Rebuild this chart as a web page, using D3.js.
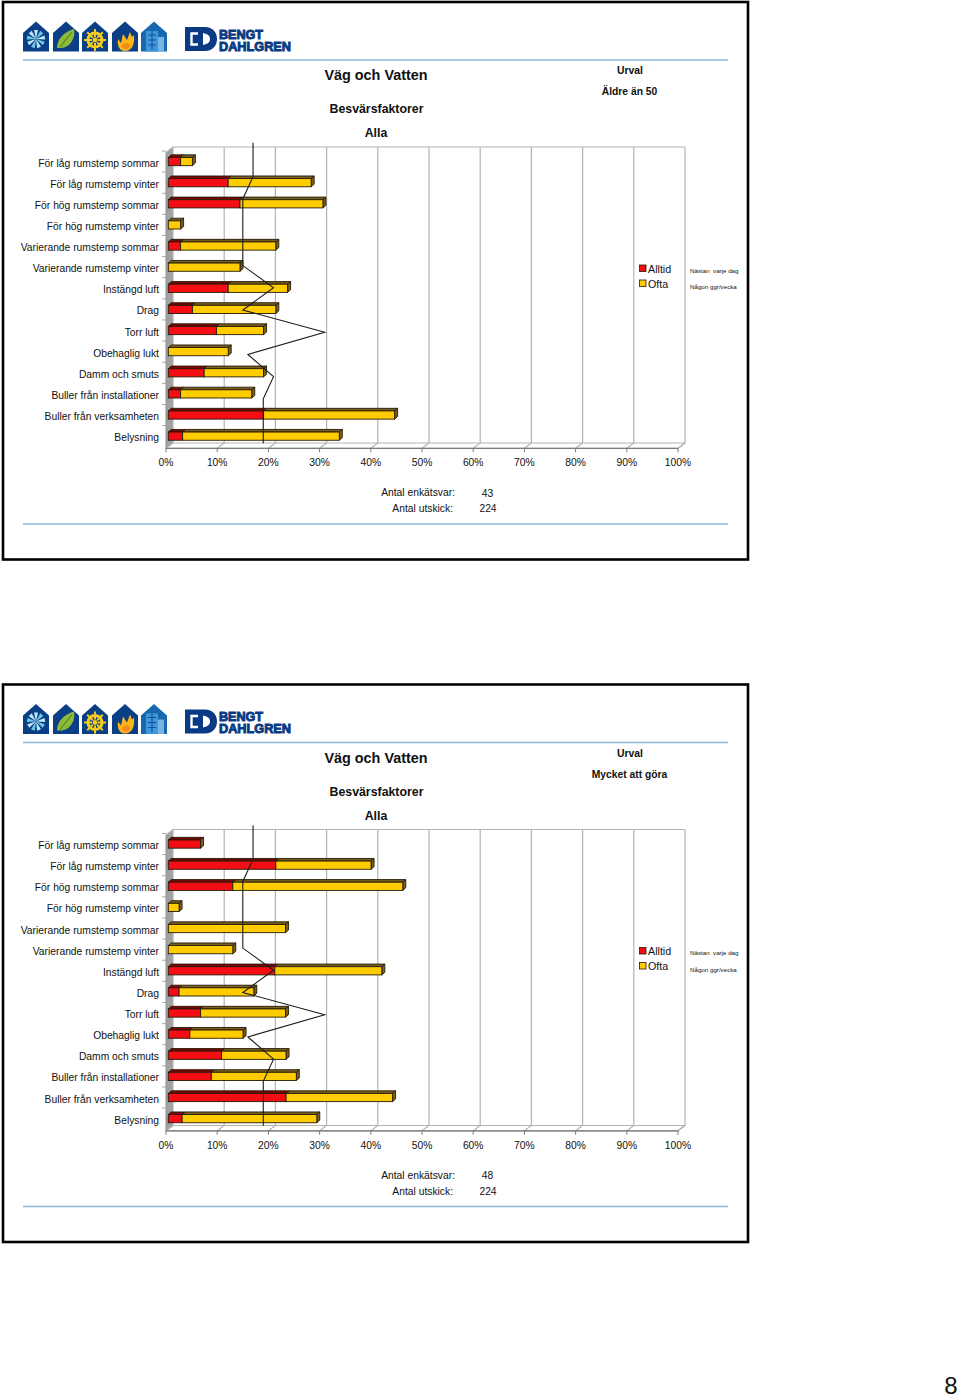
<!DOCTYPE html>
<html><head><meta charset="utf-8">
<script src="https://cdn.jsdelivr.net/npm/d3@7"></script>
<style>html,body{margin:0;padding:0;background:#fff}svg{display:block}text{font-family:"Liberation Sans",Arial,sans-serif;fill:#111}</style>
</head><body><svg id="c" width="960" height="1398"></svg>
<script>
const categories=["För låg rumstemp sommar","För låg rumstemp vinter","För hög rumstemp sommar","För hög rumstemp vinter","Varierande rumstemp sommar","Varierande rumstemp vinter","Instängd luft","Drag","Torr luft","Obehaglig lukt","Damm och smuts","Buller från installationer","Buller från verksamheten","Belysning"];
const ticks=[0,10,20,30,40,50,60,70,80,90,100];
const alltidA=[2.4,11.7,14,0,2.4,0,11.7,4.7,9.4,0,7,2.4,18.6,2.8];
const oftaA=[2.3,16.2,16.2,2.4,18.6,14,11.6,16.3,9.2,11.7,11.6,13.9,25.6,30.6];
const alltidB=[6.3,21,12.6,0,0,0,20.8,2.1,6.3,4.2,10.4,8.4,23,2.7];
const oftaB=[0,18.6,33.2,2.1,22.9,12.6,20.9,14.6,16.6,10.4,12.6,16.6,20.8,26.3];
const refStart=17;
const refValues=[17,15,15,15,15,21,15,31,16,21,19,19,19];
const legendNames=["Alltid","Ofta"];
const noteNames=["Nästan  varje dag","Någon ggr/vecka"];
const panels=[
 {top:0,urval:"Äldre än 50",svar:43,utskick:224,alltid:alltidA,ofta:oftaA},
 {top:682.5,urval:"Mycket att göra",svar:48,utskick:224,alltid:alltidB,ofta:oftaB}];
const RED="#f40d12",YEL="#ffcc00",REDT="#7d0505",YELT="#7a6020",LINE="#1c1c1c",GRID="#b4b4b4",RULE="#8db8d2",NAVY="#0a3a84";
const FS=10.3;
const x=d3.scaleLinear().domain([0,100]).range([166,678]);
const y=d3.scaleBand().domain(categories).range([151,446.7]);
const yRef=d3.scaleLinear().domain([0,13]).range([154.5,443.3]);
const col=d3.scaleOrdinal().domain(legendNames).range([RED,YEL]);
const DX=7,TOP=147,BACK=443,FRONT=448.3,BO=2.3,BH=8.2,BDX=3,BDY=2.6;
const svg=d3.select("#c");
const poly=(g,pts,fill,stroke,sw)=>g.append("polygon").attr("points",pts.map(p=>p.join(",")).join(" ")).attr("fill",fill).attr("stroke",stroke||"none").attr("stroke-width",sw||0).attr("stroke-linejoin","round");
const txt=(g,s,px,py,size,anchor,weight)=>g.append("text").text(s).attr("x",px).attr("y",py).attr("font-size",size).attr("text-anchor",anchor||"start").attr("font-weight",weight||"normal");

function house(g,hx,fill){
  g.append("path").attr("d",`M${hx},51.5V33L${hx+13},21.5L${hx+26},33V51.5Z`).attr("fill",fill);
}
function logos(g){
  house(g,23,"#0a3f86");
  const s=g.append("g").attr("transform","translate(36,39)");
  d3.range(9).forEach(i=>s.append("path").attr("d","M0,0L-2,-9L2,-9Z").attr("fill",i%2?"#6fc6e8":"#bfe6f5").attr("transform",`rotate(${i*40})`));
  house(g,53,"#0a3f86");
  g.append("path").attr("d","M57,48C57,38 66,31 74,29C76,38 70,47 62,48Z").attr("fill","#8cbb3c");
  g.append("path").attr("d","M60,47L72,32").attr("stroke","#4f8428").attr("stroke-width",1.2);
  house(g,82,"#0a3f86");
  const w=g.append("g").attr("transform","translate(95,40)");
  w.append("circle").attr("r",7).attr("fill","none").attr("stroke","#f4cc1f").attr("stroke-width",3);
  w.append("circle").attr("r",2.4).attr("fill","#f4cc1f");
  d3.range(8).forEach(i=>w.append("rect").attr("x",-1).attr("y",-11).attr("width",2).attr("height",8).attr("fill","#f4cc1f").attr("transform",`rotate(${i*45})`));
  house(g,112,"#0a3f86");
  g.append("path").attr("d","M118,39L121,43L123,34L127,40L130,32L132,37L134,35C135,44 132,51 125,51C119,51 117,45 118,39Z").attr("fill","#fdb515");
  g.append("path").attr("d","M122,46C124,42 128,42 130,45C130,50 123,51 122,46Z").attr("fill","#f58a1f");
  house(g,141,"#1868b0");
  g.append("rect").attr("x",146).attr("y",31).attr("width",12).attr("height",20.5).attr("fill","#3f97dc");
  g.append("rect").attr("x",158).attr("y",37).attr("width",6).attr("height",14.5).attr("fill","#77b4e2");
  d3.range(3).forEach(i=>g.append("path").attr("d",`M148,${35+i*5}H156`).attr("stroke","#0f4f94").attr("stroke-width",1));
  g.append("path").attr("d","M152,31V50").attr("stroke","#0f4f94").attr("stroke-width",1);
  g.append("path").attr("d","M185,27H205C213,27 217,33 217,39C217,45 213,51 205,51H185Z").attr("fill",NAVY);
  g.append("path").attr("d","M198,33.5H191.5V44.5H198").attr("fill","none").attr("stroke","#fff").attr("stroke-width",2.4);
  g.append("path").attr("d","M203,33C208,34 210,36 210,39C210,42 208,44 203,45Z").attr("fill","#fff");
  txt(g,"BENGT",219,38.5,12,"start","bold").attr("textLength",44).attr("lengthAdjust","spacingAndGlyphs").style("fill",NAVY).attr("stroke",NAVY).attr("stroke-width",.9);
  txt(g,"DAHLGREN",219,50.5,12.5,"start","bold").attr("textLength",72).attr("lengthAdjust","spacingAndGlyphs").style("fill",NAVY).attr("stroke",NAVY).attr("stroke-width",.9);
}
function bar(g,x0,x1,yc,fill,top,showRight){
  const t=yc-BH/2,b=yc+BH/2;
  poly(g,[[x0,t],[x0+BDX,t-BDY],[x1+BDX,t-BDY],[x1,t]],top,"#241a08",.9);
  if(showRight) poly(g,[[x1,t],[x1+BDX,t-BDY],[x1+BDX,b-BDY],[x1,b]],YELT,"#241a08",.9);
  g.append("rect").attr("x",x0).attr("y",t).attr("width",x1-x0).attr("height",BH).attr("fill",fill).attr("stroke","#241a08").attr("stroke-width",.9);
}
panels.forEach(p=>{
  const g=svg.append("g").attr("transform",`translate(0,${p.top})`);
  g.append("rect").attr("x",3).attr("y",2).attr("width",745).attr("height",557.5).attr("fill","#fff").attr("stroke","#000").attr("stroke-width",2.6);
  logos(g);
  g.append("path").attr("d","M23,60H728").attr("stroke",RULE).attr("stroke-width",1.6);
  g.append("path").attr("d","M23,524H728").attr("stroke",RULE).attr("stroke-width",1.6);
  txt(g,"Väg och Vatten",376,80,14.4,"middle","bold");
  txt(g,"Besvärsfaktorer",376.5,113,12.35,"middle","bold");
  txt(g,"Alla",376,137,12.35,"middle","bold");
  txt(g,"Urval",630,74,10.4,"middle","bold");
  txt(g,"Antal enkätsvar:",455,496,FS,"end");
  txt(g,"Antal utskick:",453,512,FS,"end");
  txt(g,String(p.svar),487.5,496.5,FS,"middle");
  txt(g,String(p.utskick),488,512,FS,"middle");
  txt(g,p.urval,629.5,95,FS,"middle","bold");
  // 3-D walls
  poly(g,[[x(0),TOP+5.5],[x(0)+DX,TOP],[x(0)+DX,BACK],[x(0),FRONT]],"#a2a2a2");
  poly(g,[[x(0),FRONT],[x(0)+DX,BACK],[x(100)+DX,BACK],[x(100),FRONT]],"#fff",GRID,1.2);
  ticks.forEach(t=>{
    g.append("path").attr("d",`M${x(t)+DX},${TOP}V${BACK}L${x(t)},${FRONT}`).attr("fill","none").attr("stroke",GRID).attr("stroke-width",1.2);
    g.append("path").attr("d",`M${x(t)},${FRONT}V${FRONT+4}`).attr("stroke","#7a7a7a").attr("stroke-width",1);
    txt(g,t+"%",x(t),466,FS,"middle");
  });
  g.append("path").attr("d",`M${x(0)},${TOP+5.5}L${x(0)+DX},${TOP}H${x(100)+DX}`).attr("fill","none").attr("stroke",GRID).attr("stroke-width",1.2);
  g.append("path").attr("d",`M${x(0)},${FRONT}H${x(100)}`).attr("stroke","#7a7a7a").attr("stroke-width",1.2);
  g.append("path").attr("d",`M${x(0)},${TOP+5.5}V${FRONT}`).attr("stroke","#8c8c8c").attr("stroke-width",1);
  categories.forEach(c=>g.append("path").attr("d",`M${x(0)-4},${y(c)}H${x(0)}`).attr("stroke","#a8a8a8").attr("stroke-width",1));
  // bars
  categories.forEach((c,i)=>{
    const a=p.alltid[i],o=p.ofta[i],yc=y(c)+y.bandwidth()/2;
    txt(g,c,159,yc+5,FS,"end");
    if(a>0) bar(g,x(0)+BO,x(a)+BO,yc,col("Alltid"),REDT,o===0);
    if(o>0) bar(g,x(a)+BO,x(a+o)+BO,yc,col("Ofta"),YELT,true);
  });
  // overlay line
  const pts=[[x(refStart),yRef(-0.53)]].concat(refValues.map((v,i)=>[x(v),yRef(i+1)]));
  g.append("path").attr("d",d3.line()(pts)).attr("fill","none").attr("stroke",LINE).attr("stroke-width",1.1);
  // legend
  legendNames.forEach((n,i)=>{
    const ly=265+i*15;
    g.append("rect").attr("x",639.5).attr("y",ly).attr("width",6.5).attr("height",6.5).attr("fill",col(n)).attr("stroke","#241a08").attr("stroke-width",.8);
    txt(g,n,648,ly+7.5,10.7);
  });
  noteNames.forEach((n,i)=>{
    const t=txt(g,n,690,272.5+i*16.5,6.2);
    t.attr("xml:space","preserve").style("white-space","pre");
  });
});
txt(svg,"8",951,1394,24,"middle");
</script></body></html>
